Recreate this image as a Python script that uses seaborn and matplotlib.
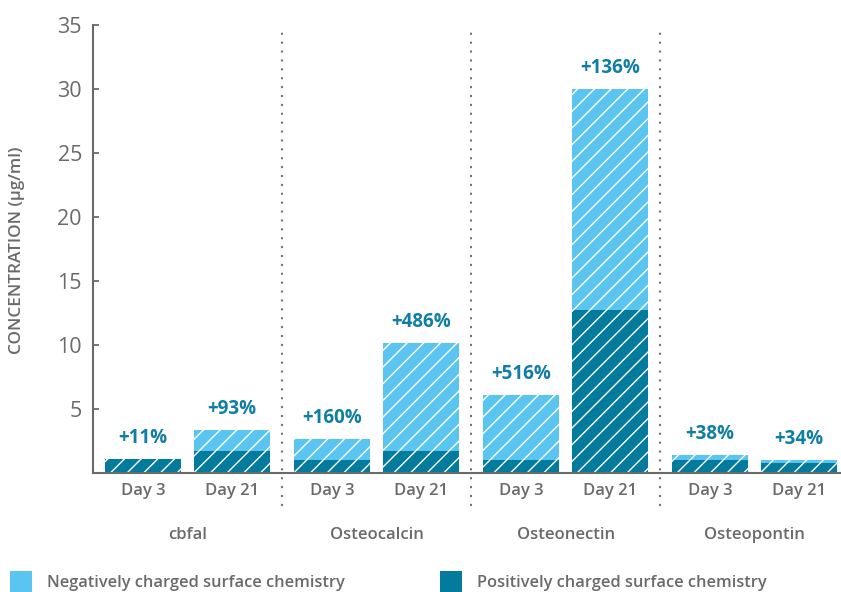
import matplotlib
matplotlib.use("Agg")
import matplotlib.pyplot as plt
import seaborn as sns
import pandas as pd
from matplotlib.patches import Rectangle

# ---- data ----
markers = ["cbfal", "Osteocalcin", "Osteonectin", "Osteopontin"]
days = ["Day 3", "Day 21"]
negative = [1.10, 3.36, 2.66, 10.16, 6.09, 30.0, 1.41, 1.00]
positive = [1.07, 1.74, 1.02, 1.74, 1.02, 12.73, 1.02, 0.78]
pct_labels = ["+11%", "+93%", "+160%", "+486%", "+516%", "+136%", "+38%", "+34%"]
yticks = [5, 10, 15, 20, 25, 30, 35]

LIGHT = "#5BC5F2"
DARK = "#037B9D"
PCT = "#0E7EA4"
GRAY = "#6A6A6A"

sns.set_theme(style="white")
plt.rcParams["font.family"] = ["Open Sans", "DejaVu Sans"]
plt.rcParams["hatch.color"] = "white"
plt.rcParams["hatch.linewidth"] = 1.0

GSTEP = 2.124
rows = []
for gi, m in enumerate(markers):
    for di, d in enumerate(days):
        k = gi * 2 + di
        rows.append({"marker": m, "day": d, "pos": gi * GSTEP + di,
                     "negative": negative[k], "positive": positive[k], "pct": pct_labels[k]})
df = pd.DataFrame(rows)

fig = plt.figure(figsize=(8.41, 5.92), dpi=100)
ax = fig.add_axes([93 / 841, 119 / 592, 747 / 841, 448 / 592])

W = 76 / 89
sns.barplot(data=df, x="pos", y="negative", native_scale=True, width=W,
            color=LIGHT, saturation=1, hatch="//", edgecolor="white",
            linewidth=0, ax=ax, errorbar=None)
sns.barplot(data=df, x="pos", y="positive", native_scale=True, width=W,
            color=DARK, saturation=1, hatch="//", edgecolor="white",
            linewidth=0, ax=ax, errorbar=None)

ax.set_xlim(-0.562, 7.83)
ax.set_ylim(0, 35)

# percent labels
for _, r in df.iterrows():
    ax.annotate(r["pct"], (r["pos"], r["negative"]), xytext=(0, 15),
                textcoords="offset points", ha="center", va="center",
                fontsize=13.5, fontweight=700, color=PCT)

# axes styling
for s in ["top", "right"]:
    ax.spines[s].set_visible(False)
for s in ["left", "bottom"]:
    ax.spines[s].set_color(GRAY)
    ax.spines[s].set_linewidth(1.5)

ax.set_yticks(yticks)
ax.set_yticklabels([str(v) for v in yticks], fontsize=15.5, color=GRAY)
ax.tick_params(axis="y", direction="in", length=4, width=1.3, color=GRAY, pad=8, left=True)
ax.set_xticks(df["pos"])
ax.set_xticklabels(df["day"], fontsize=12, color=GRAY, fontweight=600)
ax.tick_params(axis="x", length=0, pad=7)
ax.set_xlabel("")
ax.set_ylabel("CONCENTRATION (µg/ml)", fontsize=12.3, color=GRAY, fontweight=600)
ax.yaxis.set_label_coords(-68 / 747, 0.497)

# separators and group labels
for gi in range(len(markers)):
    ax.text(gi * GSTEP + 0.5, -4.84, markers[gi], ha="center", va="center",
            fontsize=12, color=GRAY, fontweight=600)
    if gi > 0:
        xs = (gi - 1) * GSTEP + 1 + (GSTEP - 1) / 2
        ax.plot([xs, xs], [-2.5, 35], color=GRAY, lw=1.6,
                linestyle=(0, (0.1, 3.9)), dash_capstyle="round", clip_on=False)

# legend
for (x0, lab, col) in [(10, "Negatively charged surface chemistry", LIGHT),
                       (440, "Positively charged surface chemistry", DARK)]:
    fig.add_artist(Rectangle((x0 / 841, 0), 22 / 841, 21 / 592,
                             transform=fig.transFigure, color=col, lw=0))
    fig.text((x0 + 37) / 841, (592 - 583) / 592, lab, ha="left", va="center",
             fontsize=11.8, color=GRAY, fontweight=600)

fig.savefig("out.png", dpi=100)
